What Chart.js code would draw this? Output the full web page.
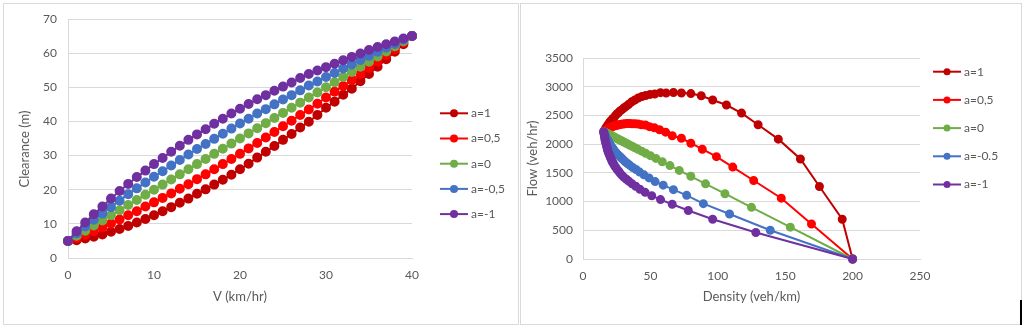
<!DOCTYPE html>
<html>
  <head>
    <title>Clearance e Flow</title>
    <script src="https://cdn.jsdelivr.net/npm/chart.js"></script>
    <style>
      body { margin: 0; background: #fff; width: 1024px; height: 328px; overflow: hidden; position: relative; }
      .painel { position: absolute; top: 3px; height: 322px; box-sizing: border-box; border: 1px solid #d9d9d9; }
      canvas { position: absolute; top: 0; }
    </style>
  </head>

  <body>
    <div class="painel" style="left: 3px; width: 516px"></div>
    <div class="painel" style="left: 520px; width: 502px"></div>
    <div style="position: absolute; left: 1020px; top: 300px; width: 2px; height: 25px; background: #000"></div>

    <canvas id="clearance" width="519" height="328" style="left: 0"></canvas>
    <canvas id="flow" width="505" height="328" style="left: 519px"></canvas>

    <script>
      // velocidade (eixo x do primeiro grafico)
      const velocidade = [0, 1, 2, 3, 4, 5, 6, 7, 8, 9, 10, 11, 12, 13, 14, 15, 16, 17, 18, 19, 20,
        21, 22, 23, 24, 25, 26, 27, 28, 29, 30, 31, 32, 33, 34, 35, 36, 37, 38, 39, 40];

      // clearance (m) para cada valor de a
      const clear_a1 = [5.0, 5.2, 5.7, 6.2, 6.9, 7.7, 8.5, 9.4, 10.4, 11.4, 12.5, 13.7, 14.9, 16.2, 17.4, 18.8, 20.1, 21.5, 22.9, 24.4, 26.0,
        27.6, 29.4, 31.1, 32.8, 34.6, 36.3, 38.2, 39.9, 41.9, 44.0, 45.8, 47.8, 49.6, 51.8, 53.9, 56.0, 58.2, 60.4, 62.6, 65.0];
      const clear_a05 = [5.0, 5.9, 6.8, 7.9, 9.0, 10.1, 11.3, 12.5, 13.7, 15.1, 16.3, 17.6, 18.9, 20.3, 21.6, 23.1, 24.5, 26.0, 27.5, 29.0, 30.5,
        32.1, 33.7, 35.3, 36.9, 38.6, 40.2, 41.9, 43.5, 45.2, 47.0, 48.7, 50.4, 52.1, 53.9, 55.7, 57.5, 59.4, 61.2, 63.1, 65.0];
      const clear_a0 = [5.0, 6.5, 8.0, 9.5, 11.0, 12.5, 14.0, 15.5, 17.0, 18.5, 20.0, 21.5, 23.0, 24.5, 26.0, 27.5, 29.0, 30.5, 32.0, 33.5, 35.0,
        36.5, 38.0, 39.5, 41.0, 42.5, 44.0, 45.5, 47.0, 48.5, 50.0, 51.5, 53.0, 54.5, 56.0, 57.5, 59.0, 60.5, 62.0, 63.5, 65.0];
      const clear_am05 = [5.0, 7.2, 9.2, 11.2, 13.0, 14.9, 16.8, 18.7, 20.4, 22.1, 23.8, 25.4, 27.1, 28.7, 30.3, 31.9, 33.4, 34.9, 36.4, 37.9, 39.4,
        40.8, 42.3, 43.6, 45.0, 46.4, 47.7, 49.1, 50.5, 51.7, 53.0, 54.2, 55.5, 56.7, 58.0, 59.2, 60.4, 61.6, 62.7, 63.9, 65.0];
      const clear_am1 = [5.0, 7.8, 10.4, 12.8, 15.1, 17.4, 19.6, 21.7, 23.7, 25.6, 27.5, 29.3, 31.1, 32.9, 34.6, 36.2, 37.7, 39.3, 40.8, 42.3, 43.7,
        45.1, 46.5, 47.7, 49.0, 50.2, 51.4, 52.7, 53.9, 54.9, 55.9, 56.9, 57.9, 58.9, 59.9, 60.9, 61.8, 62.6, 63.4, 64.3, 65.0];

      // density (veh/km) e flow (veh/hr) do segundo grafico
      const dens_a1 = [200.0, 192.3, 175.4, 161.3, 144.9, 129.9, 117.6, 106.4, 96.2, 87.7, 80.0, 73.0, 67.1, 61.7, 57.5, 53.2, 49.8, 46.5, 43.7, 41.0, 38.5,
        36.2, 34.0, 32.2, 30.5, 28.9, 27.5, 26.2, 25.1, 23.9, 22.7, 21.8, 20.9, 20.2, 19.3, 18.6, 17.9, 17.2, 16.6, 16.0, 15.4];
      const flow_a1 = [0, 692, 1263, 1742, 2087, 2338, 2541, 2681, 2769, 2842, 2880, 2890, 2899, 2889, 2897, 2872, 2866, 2847, 2830, 2803, 2769,
        2739, 2694, 2662, 2634, 2601, 2579, 2545, 2526, 2492, 2455, 2437, 2410, 2395, 2363, 2338, 2314, 2289, 2265, 2243, 2215];
      const dens_a05 = [200.0, 169.5, 147.1, 126.6, 111.1, 99.0, 88.5, 80.0, 73.0, 66.2, 61.3, 56.8, 52.9, 49.3, 46.3, 43.3, 40.8, 38.5, 36.4, 34.5, 32.8,
        31.2, 29.7, 28.3, 27.1, 25.9, 24.9, 23.9, 23.0, 22.1, 21.3, 20.5, 19.8, 19.2, 18.6, 18.0, 17.4, 16.8, 16.3, 15.8, 15.4];
      const flow_a05 = [0, 610, 1059, 1367, 1600, 1782, 1912, 2016, 2102, 2146, 2209, 2250, 2286, 2305, 2333, 2338, 2351, 2354, 2356, 2359, 2361,
        2355, 2350, 2346, 2341, 2332, 2328, 2320, 2317, 2310, 2298, 2292, 2286, 2280, 2271, 2262, 2254, 2242, 2235, 2225, 2215];
      const dens_a0 = [200.0, 153.8, 125.0, 105.3, 90.9, 80.0, 71.4, 64.5, 58.8, 54.1, 50.0, 46.5, 43.5, 40.8, 38.5, 36.4, 34.5, 32.8, 31.3, 29.9, 28.6,
        27.4, 26.3, 25.3, 24.4, 23.5, 22.7, 22.0, 21.3, 20.6, 20.0, 19.4, 18.9, 18.3, 17.9, 17.4, 16.9, 16.5, 16.1, 15.7, 15.4];
      const flow_a0 = [0, 554, 900, 1137, 1309, 1440, 1543, 1626, 1694, 1751, 1800, 1842, 1878, 1910, 1938, 1964, 1986, 2007, 2025, 2042, 2057,
        2071, 2084, 2096, 2107, 2118, 2127, 2136, 2145, 2153, 2160, 2167, 2174, 2180, 2186, 2191, 2197, 2202, 2206, 2211, 2215];
      const dens_am05 = [200.0, 138.9, 108.7, 89.3, 76.9, 67.1, 59.5, 53.5, 49.0, 45.2, 42.0, 39.4, 36.9, 34.8, 33.0, 31.3, 29.9, 28.7, 27.5, 26.4, 25.4,
        24.5, 23.6, 22.9, 22.2, 21.6, 21.0, 20.4, 19.8, 19.3, 18.9, 18.5, 18.0, 17.6, 17.2, 16.9, 16.6, 16.2, 15.9, 15.6, 15.4];
      const flow_am05 = [0, 500, 783, 964, 1108, 1208, 1286, 1348, 1412, 1466, 1513, 1559, 1594, 1631, 1663, 1693, 1725, 1754, 1780, 1805, 1827,
        1853, 1872, 1899, 1920, 1940, 1962, 1980, 1996, 2019, 2038, 2059, 2076, 2095, 2110, 2128, 2146, 2162, 2182, 2197, 2215];
      const dens_am1 = [200.0, 128.2, 96.2, 78.1, 66.2, 57.5, 51.0, 46.1, 42.2, 39.1, 36.4, 34.1, 32.2, 30.4, 28.9, 27.6, 26.5, 25.4, 24.5, 23.6, 22.9,
        22.2, 21.5, 21.0, 20.4, 19.9, 19.5, 19.0, 18.6, 18.2, 17.9, 17.6, 17.3, 17.0, 16.7, 16.4, 16.2, 16.0, 15.8, 15.6, 15.4];
      const flow_am1 = [0, 462, 692, 844, 954, 1034, 1102, 1161, 1215, 1266, 1309, 1352, 1389, 1422, 1457, 1492, 1528, 1557, 1588, 1617, 1648,
        1676, 1703, 1736, 1763, 1793, 1821, 1844, 1870, 1902, 1932, 1961, 1990, 2017, 2043, 2069, 2097, 2128, 2158, 2184, 2215];

      const cores = ["#c00000", "#ff0000", "#70ad47", "#4472c4", "#7030a0"];

      Chart.defaults.font.family = "Lato, 'DejaVu Sans', sans-serif";
      Chart.defaults.font.size = 12;
      Chart.defaults.color = "#595959";

      // legenda no estilo do Excel (linha + bolinha) e titulo do eixo y deslocado
      const legendaExcel = {
        id: "legendaExcel",
        afterDraw(chart, args, opts) {
          const ctx = chart.ctx;
          ctx.save();
          ctx.font = "12px Lato";
          ctx.textBaseline = "middle";
          chart.data.datasets.forEach(function (ds, i) {
            const y = opts.y + i * opts.gap;
            ctx.strokeStyle = ds.borderColor;
            ctx.lineWidth = 2;
            ctx.beginPath();
            ctx.moveTo(opts.x, y);
            ctx.lineTo(opts.x + 28, y);
            ctx.stroke();
            ctx.fillStyle = ds.borderColor;
            ctx.beginPath();
            ctx.arc(opts.x + 14, y, opts.r, 0, Math.PI * 2);
            ctx.fill();
            ctx.fillStyle = "#595959";
            ctx.fillText(ds.label, opts.x + 31, y);
          });
          if (opts.titulo) {
            ctx.translate(opts.tituloX, opts.tituloY);
            ctx.rotate(-Math.PI / 2);
            ctx.font = "13px Lato";
            ctx.textAlign = "center";
            ctx.fillText(opts.titulo, 0, 0);
          }
          ctx.restore();
        },
      };

      function serie(label, xs, ys, cor, ordem, raio) {
        return {
          label: label,
          data: xs.map(function (x, i) { return { x: x, y: ys[i] }; }),
          borderColor: cor,
          backgroundColor: cor,
          pointBackgroundColor: cor,
          pointBorderColor: cor,
          pointRadius: raio,
          borderWidth: 2,
          showLine: true,
          clip: false,
          order: ordem,
        };
      }

      function numero(v) { return v; }

      // grafico 1 - Clearance x V
      new Chart(document.getElementById("clearance"), {
        type: "scatter",
        data: {
          datasets: [
            serie("a=1", velocidade, clear_a1, cores[0], 5, 4),
            serie("a=0,5", velocidade, clear_a05, cores[1], 4, 4),
            serie("a=0", velocidade, clear_a0, cores[2], 3, 4),
            serie("a=-0,5", velocidade, clear_am05, cores[3], 2, 4),
            serie("a=-1", velocidade, clear_am1, cores[4], 1, 4),
          ],
        },
        options: {
          responsive: false,
          animation: false,
          devicePixelRatio: 1,
          layout: { padding: { left: 0, top: 19, right: 107, bottom: 0 } },
          plugins: {
            legend: { display: false },
            tooltip: { enabled: false },
            legendaExcel: { x: 440, y: 113.3, gap: 25.2, r: 4, titulo: "Clearance (m)", tituloX: 25, tituloY: 149 },
          },
          scales: {
            x: {
              type: "linear", min: 0, max: 40,
              ticks: { stepSize: 10, padding: 10, callback: numero },
              grid: { display: false, drawTicks: false },
              border: { color: "#d9d9d9" },
              title: { display: true, text: "V (km/hr)", font: { size: 13 }, padding: { top: 0, bottom: 23 } },
              afterFit: function (s) { s.height = 70; },
            },
            y: {
              min: 0, max: 70,
              ticks: { stepSize: 10, padding: 11, callback: numero },
              grid: { color: "#d9d9d9", drawTicks: false },
              border: { color: "#d9d9d9" },
              afterFit: function (s) { s.width = 68; },
            },
          },
        },
        plugins: [legendaExcel],
      });

      // grafico 2 - Flow x Density
      new Chart(document.getElementById("flow"), {
        type: "scatter",
        data: {
          datasets: [
            serie("a=1", dens_a1, flow_a1, cores[0], 5, 3.5),
            serie("a=0,5", dens_a05, flow_a05, cores[1], 4, 3.5),
            serie("a=0", dens_a0, flow_a0, cores[2], 3, 3.5),
            serie("a=-0.5", dens_am05, flow_am05, cores[3], 2, 3.5),
            serie("a=-1", dens_am1, flow_am1, cores[4], 1, 3.5),
          ],
        },
        options: {
          responsive: false,
          animation: false,
          devicePixelRatio: 1,
          layout: { padding: { left: 0, top: 58, right: 104, bottom: 0 } },
          plugins: {
            legend: { display: false },
            tooltip: { enabled: false },
            legendaExcel: { x: 414, y: 71.7, gap: 28.2, r: 3.5 },
          },
          scales: {
            x: {
              type: "linear", min: 0, max: 250,
              ticks: { stepSize: 50, padding: 10, callback: numero },
              grid: { display: false, drawTicks: false },
              border: { color: "#d9d9d9" },
              title: { display: true, text: "Density (veh/km)", font: { size: 13 }, padding: { top: 0, bottom: 23 } },
              afterFit: function (s) { s.height = 69; },
            },
            y: {
              min: 0, max: 3500,
              ticks: { stepSize: 500, padding: 10, callback: numero },
              grid: { color: "#d9d9d9", drawTicks: false },
              border: { color: "#d9d9d9" },
              title: { display: true, text: "Flow (veh/hr)", font: { size: 13 }, padding: { top: 6, bottom: 0 } },
              afterFit: function (s) { s.width = 64; },
            },
          },
        },
        plugins: [legendaExcel],
      });
    </script>
  </body>
</html>
